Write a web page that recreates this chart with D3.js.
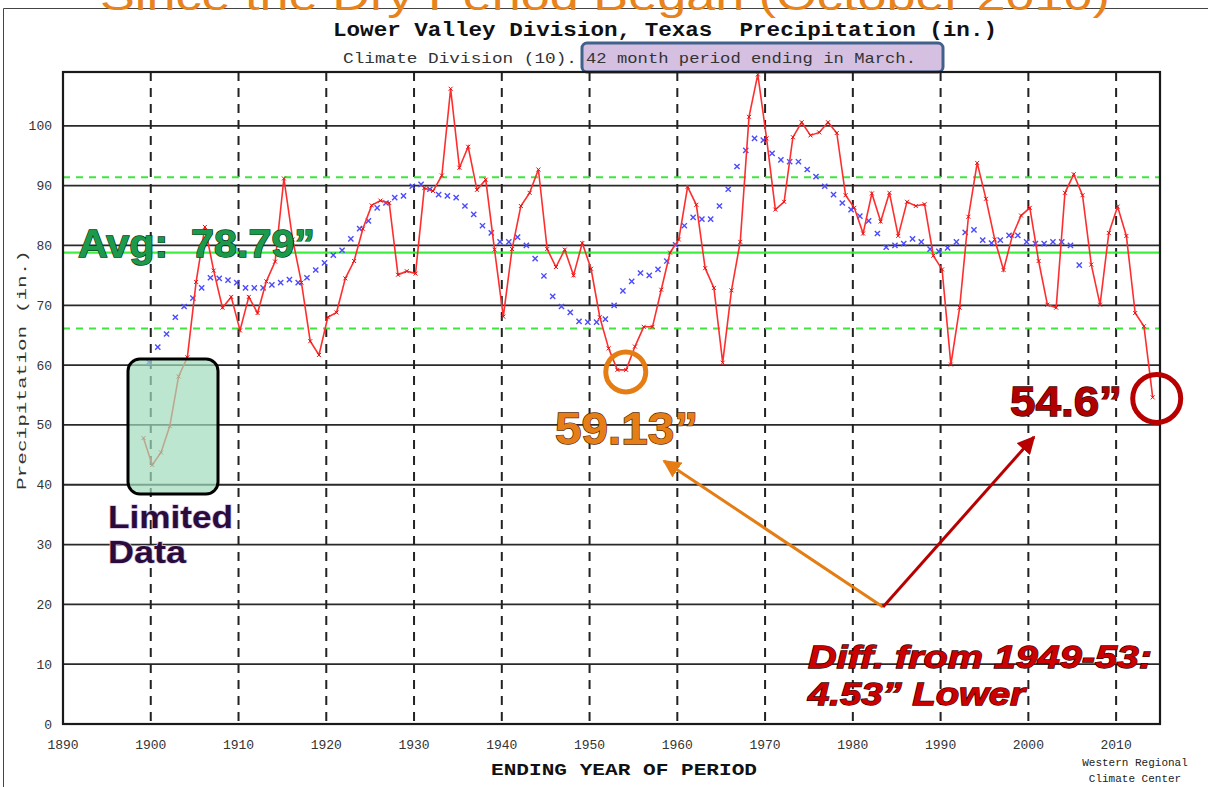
<!DOCTYPE html>
<html>
<head>
<meta charset="utf-8">
<script src="https://cdn.jsdelivr.net/npm/d3@7"></script>
<style>
  html, body { margin: 0; padding: 0; background: #fff; }
  svg { display: block; }
</style>
</head>
<body>
<svg id="chart" width="1208" height="787"></svg>
<script>
/* ── datos ── */
const annualStart = 1899;
const annualPrecip = [
  47.8, 43.3, 45.4, 49.8, 58.1, 61.3, 73.9, 83.1, 75.8, 69.6,   // 1899-1908
  71.4, 65.8, 71.4, 68.7, 74.0, 77.3, 91.2, 81.0, 73.8, 64.0,   // 1909-1918
  61.7, 68.0, 68.8, 74.5, 77.4, 82.8, 86.7, 87.5, 87.1, 75.1,   // 1919-1928
  75.7, 75.3, 89.6, 89.1, 91.7, 106.2, 93.0, 96.5, 89.3, 91.0,  // 1929-1938
  79.3, 68.1, 79.4, 86.6, 88.8, 92.7, 79.4, 76.4, 79.3, 75.0,   // 1939-1948
  80.4, 76.1, 68.0, 62.8, 59.2, 59.2, 63.1, 66.4, 66.4, 72.6,   // 1949-1958
  78.8, 81.0, 89.8, 86.8, 76.2, 72.9, 60.4, 72.5, 80.6, 101.5,  // 1959-1968
  108.6, 97.9, 86.0, 87.3, 98.1, 100.6, 98.4, 98.9, 100.6, 98.8,// 1969-1978
  88.4, 86.3, 82.0, 88.7, 84.0, 88.8, 81.6, 87.3, 86.6, 86.9,   // 1979-1988
  78.3, 76.0, 60.1, 69.6, 84.8, 93.8, 87.8, 81.0, 75.9, 81.6,   // 1989-1998
  85.0, 86.3, 77.4, 70.1, 69.6, 88.8, 91.9, 88.4, 76.8, 70.1,   // 1999-2008
  82.1, 86.5, 81.6, 68.7, 66.5, 54.6                            // 2009-2014
];

const smoothStart = 1900;
const smoothPrecip = [
  60.5, 63.0, 65.2, 68.0, 69.8, 71.2, 72.9, 74.6, 74.5, 74.2,   // 1900-1909
  73.8, 72.9, 72.9, 72.9, 73.4, 73.8, 74.3, 73.8, 74.6, 75.9,   // 1910-1919
  77.1, 78.4, 79.2, 81.1, 82.8, 84.1, 86.3, 87.1, 88.0, 88.3,   // 1920-1929
  89.9, 90.2, 89.4, 88.5, 88.3, 88.0, 86.6, 85.2, 83.3, 82.1,   // 1930-1939
  80.6, 80.6, 81.4, 80.0, 77.8, 74.9, 71.5, 69.8, 68.8, 67.3,   // 1940-1949
  67.2, 67.2, 67.7, 70.0, 72.4, 74.0, 75.4, 75.0, 76.0, 77.4,   // 1950-1959
  80.1, 83.3, 84.7, 84.4, 84.4, 86.6, 89.4, 93.2, 95.9, 97.9,   // 1960-1969
  97.6, 95.4, 94.3, 94.0, 94.0, 92.7, 91.5, 89.9, 88.5, 87.1,   // 1970-1979
  86.0, 84.9, 84.1, 82.0, 79.7, 80.0, 80.3, 81.1, 80.6, 79.4,   // 1980-1989
  79.0, 79.6, 80.6, 82.2, 82.6, 80.9, 80.4, 80.9, 81.7, 81.7,   // 1990-1999
  80.6, 80.3, 80.3, 80.6, 80.6, 80.0, 76.7                      // 2000-2006
];

const avgValue = 78.79;
const bandValues = [91.4, 66.1];
const yTicks = [0, 10, 20, 30, 40, 50, 60, 70, 80, 90, 100];
const xTicks = [1890, 1900, 1910, 1920, 1930, 1940, 1950, 1960, 1970, 1980, 1990, 2000, 2010];
const decadeLines = [1900, 1910, 1920, 1930, 1940, 1950, 1960, 1970, 1980, 1990, 2000, 2010];
const lowPeriod = [1953, 1954];

const svg = d3.select("#chart");
const mono = "'Liberation Mono', 'DejaVu Sans Mono', monospace";
const sans = "'Liberation Sans', Arial, sans-serif";

const izq = 63, der = 1160, arriba = 72, abajo = 724;

const x = d3.scaleLinear().domain([1890, 2015]).range([izq, der]);
const y = d3.scaleLinear().domain([0, 109]).range([abajo, arriba]);

/* puntos: los anuales van en marzo (+2 meses), la media suavizada un poco antes */
const anual = annualPrecip.map((v, i) => ({ t: annualStart + i + 0.17, v }));
const suave = smoothPrecip.map((v, i) => ({ t: smoothStart + i - 0.2, v }));

/* marco de la imagen */
svg.append("path")
  .attr("d", "M3.5,787 V8.5 H1208")
  .attr("fill", "none").attr("stroke", "#444").attr("stroke-width", 1);

/* ── texto naranja cortado arriba (viene de la diapositiva) ── */
svg.append("text")
  .attr("x", 100).attr("y", 10)
  .attr("textLength", 1010).attr("lengthAdjust", "spacingAndGlyphs")
  .attr("font-family", sans).attr("font-size", 40)
  .attr("fill", "#e8821a")
  .text("Since the Dry Period Began (October 2010)");

/* ── títulos ── */
svg.append("text")
  .attr("x", 333).attr("y", 36)
  .attr("textLength", 664).attr("lengthAdjust", "spacingAndGlyphs")
  .attr("font-family", mono).attr("font-weight", "bold").attr("font-size", 20)
  .attr("fill", "#111")
  .text("Lower Valley Division, Texas\u00A0\u00A0Precipitation (in.)");

svg.append("rect")
  .attr("x", 582).attr("y", 43).attr("width", 361).attr("height", 29).attr("rx", 5)
  .attr("fill", "#d5c0e2").attr("stroke", "#41608a").attr("stroke-width", 3);

svg.append("text")
  .attr("x", 343).attr("y", 63)
  .attr("textLength", 234).attr("lengthAdjust", "spacingAndGlyphs")
  .attr("font-family", mono).attr("font-size", 15).attr("fill", "#333")
  .text("Climate Division (10).");

svg.append("text")
  .attr("x", 586).attr("y", 63)
  .attr("textLength", 330).attr("lengthAdjust", "spacingAndGlyphs")
  .attr("font-family", mono).attr("font-size", 15).attr("fill", "#333")
  .text("42 month period ending in March.");

/* ── rejilla ── */
svg.append("g")
  .selectAll("line")
  .data(yTicks.filter(d => d > 0))
  .join("line")
  .attr("x1", izq).attr("x2", der)
  .attr("y1", d => y(d)).attr("y2", d => y(d))
  .attr("stroke", "#2a2a2a").attr("stroke-width", 1.8);

svg.append("g")
  .selectAll("line")
  .data(decadeLines)
  .join("line")
  .attr("x1", d => x(d)).attr("x2", d => x(d))
  .attr("y1", arriba).attr("y2", abajo)
  .attr("stroke", "#222").attr("stroke-width", 2)
  .attr("stroke-dasharray", "9,7");

/* promedio y bandas */
svg.append("line")
  .attr("x1", izq).attr("x2", der)
  .attr("y1", y(avgValue)).attr("y2", y(avgValue))
  .attr("stroke", "#3ef03e").attr("stroke-width", 2.2);

svg.append("g")
  .selectAll("line")
  .data(bandValues)
  .join("line")
  .attr("x1", izq).attr("x2", der)
  .attr("y1", d => y(d)).attr("y2", d => y(d))
  .attr("stroke", "#3ee63e").attr("stroke-width", 2)
  .attr("stroke-dasharray", "7,6");

/* ── ejes ── */
svg.append("g")
  .selectAll("text")
  .data(yTicks)
  .join("text")
  .attr("x", 52).attr("y", d => y(d)).attr("dy", "0.35em")
  .attr("text-anchor", "end")
  .attr("font-family", mono).attr("font-size", 13).attr("fill", "#333")
  .text(d => d);

svg.append("g")
  .selectAll("text")
  .data(xTicks)
  .join("text")
  .attr("x", d => x(d)).attr("y", 749)
  .attr("text-anchor", "middle")
  .attr("font-family", mono).attr("font-size", 13).attr("fill", "#333")
  .text(d => d);

svg.append("text")
  .attr("x", 491).attr("y", 775)
  .attr("textLength", 266).attr("lengthAdjust", "spacingAndGlyphs")
  .attr("font-family", mono).attr("font-weight", "bold").attr("font-size", 17)
  .attr("fill", "#111")
  .text("ENDING YEAR OF PERIOD");

svg.append("text")
  .attr("transform", "translate(26,370) rotate(-90)")
  .attr("text-anchor", "middle")
  .attr("textLength", 240).attr("lengthAdjust", "spacingAndGlyphs")
  .attr("font-family", mono).attr("font-size", 13).attr("fill", "#333")
  .text("Precipitation (in.)");

svg.append("text")
  .attr("x", 1135).attr("y", 766).attr("text-anchor", "middle")
  .attr("font-family", mono).attr("font-size", 11).attr("fill", "#222")
  .text("Western Regional");
svg.append("text")
  .attr("x", 1135).attr("y", 782).attr("text-anchor", "middle")
  .attr("font-family", mono).attr("font-size", 11).attr("fill", "#222")
  .text("Climate Center");

/* ── series ── */
const cruz = (s) => `M${-s},${-s}L${s},${s}M${-s},${s}L${s},${-s}`;

svg.append("g")
  .selectAll("path")
  .data(suave)
  .join("path")
  .attr("transform", d => `translate(${x(d.t)},${y(d.v)})`)
  .attr("d", cruz(2.6))
  .attr("stroke", "#4b4bff").attr("stroke-width", 1.4);

const linea = d3.line().x(d => x(d.t)).y(d => y(d.v));

svg.append("path")
  .datum(anual)
  .attr("d", linea)
  .attr("fill", "none")
  .attr("stroke", "#ff2e2e").attr("stroke-width", 1.6);

svg.append("g")
  .selectAll("path")
  .data(anual)
  .join("path")
  .attr("transform", d => `translate(${x(d.t)},${y(d.v)})`)
  .attr("d", cruz(2))
  .attr("stroke", "#e01010").attr("stroke-width", 1);

/* marco del gráfico */
svg.append("rect")
  .attr("x", izq).attr("y", arriba)
  .attr("width", der - izq).attr("height", abajo - arriba)
  .attr("fill", "none").attr("stroke", "#1a1a1a").attr("stroke-width", 2.2);

/* ── anotaciones ── */
svg.append("rect")
  .attr("x", 128).attr("y", 359).attr("width", 90).attr("height", 135).attr("rx", 12)
  .attr("fill", "#9fdcba").attr("fill-opacity", 0.7)
  .attr("stroke", "#000").attr("stroke-width", 3);

function etiqueta(txt, px, py, size, width, fill, stroke, italic) {
  return svg.append("text")
    .attr("x", px).attr("y", py)
    .attr("textLength", width).attr("lengthAdjust", "spacingAndGlyphs")
    .attr("font-family", sans).attr("font-weight", "bold")
    .attr("font-style", italic ? "italic" : "normal")
    .attr("font-size", size)
    .attr("fill", fill).attr("stroke", stroke).attr("stroke-width", 1.3)
    .attr("paint-order", "stroke")
    .text(txt);
}

etiqueta("Avg:\u00A0\u00A0" + avgValue + "\u201D", 78, 257, 38, 237, "#1c9a4c", "#0b3a1c");
etiqueta("Limited", 108, 528, 32, 125, "#2a0b3c", "#d8c8e8");
etiqueta("Data", 108, 563, 32, 78, "#2a0b3c", "#d8c8e8");

/* mínimo 1949-53 */
const bajo = anual.filter(d => lowPeriod.includes(Math.floor(d.t)));
const cx1 = d3.mean(bajo, d => x(d.t)), cy1 = d3.mean(bajo, d => y(d.v));
svg.append("circle")
  .attr("cx", cx1 + 4).attr("cy", cy1 + 2).attr("r", 20)
  .attr("fill", "none").attr("stroke", "#e57d14").attr("stroke-width", 5);
etiqueta("59.13\u201D", 555, 444, 44, 143, "#e67e18", "#5a2a00");

/* último valor */
const ultimo = anual[anual.length - 1];
svg.append("circle")
  .attr("cx", x(ultimo.t) + 4).attr("cy", y(ultimo.v) + 1).attr("r", 24)
  .attr("fill", "none").attr("stroke", "#b80000").attr("stroke-width", 5);
etiqueta(ultimo.v + "\u201D", 1010, 416, 42, 112, "#b00000", "#3a0000");

/* flechas */
const defs = svg.append("defs");
[["flechaNaranja", "#e57d14"], ["flechaRoja", "#b80000"]].forEach(([id, c]) => {
  defs.append("marker")
    .attr("id", id)
    .attr("viewBox", "0 0 10 10")
    .attr("refX", 9).attr("refY", 5)
    .attr("markerWidth", 6).attr("markerHeight", 6)
    .attr("orient", "auto")
    .append("path")
    .attr("d", "M0,0 L10,5 L0,10 z")
    .attr("fill", c);
});

svg.append("line")
  .attr("x1", 883).attr("y1", 607).attr("x2", 664).attr("y2", 461)
  .attr("stroke", "#e57d14").attr("stroke-width", 3)
  .attr("marker-end", "url(#flechaNaranja)");
svg.append("line")
  .attr("x1", 883).attr("y1", 607).attr("x2", 1034).attr("y2", 437)
  .attr("stroke", "#b80000").attr("stroke-width", 3)
  .attr("marker-end", "url(#flechaRoja)");

etiqueta("Diff. from 1949-53:", 808, 668, 32, 344, "#cc0000", "#3a0000", true);
etiqueta("4.53\u201D Lower", 808, 705, 32, 217, "#cc0000", "#3a0000", true);
</script>
</body>
</html>
